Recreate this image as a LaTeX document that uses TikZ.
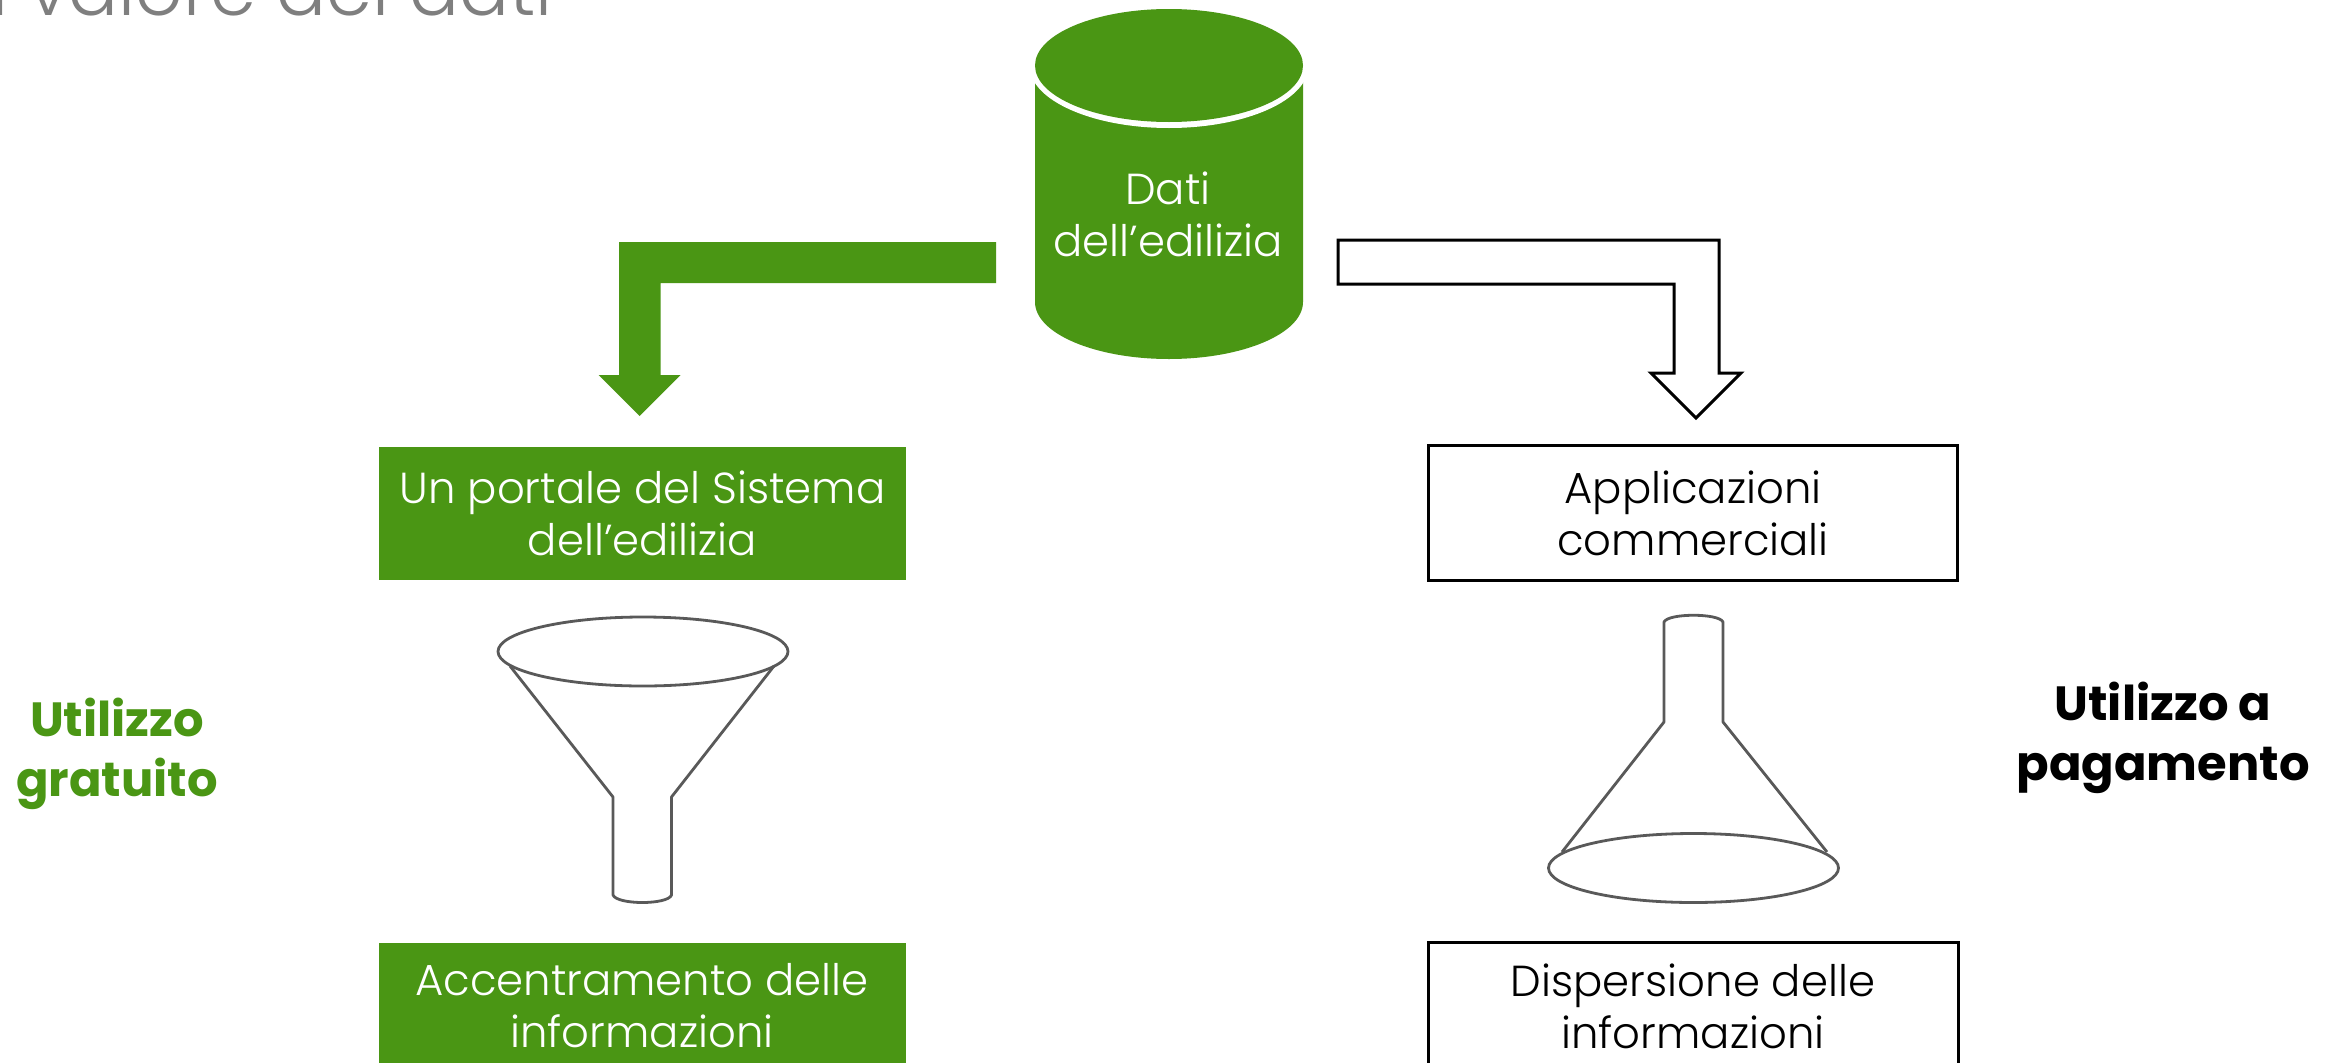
\documentclass[tikz,border=0pt]{standalone}
\usepackage{fontspec}
\setmainfont{Poppins}[UprightFont={* Light},BoldFont={* Bold}]
\definecolor{verde}{HTML}{4A9614}
\definecolor{grigio}{HTML}{595959}
\definecolor{titolo}{HTML}{7F7F7F}
\tikzset{
  lbl/.style={align=center,font=\fontsize{43.4}{52}\selectfont,inner sep=0pt},
  lblw/.style={lbl,text=white},
  lblk/.style={lbl,text=black},
  side/.style={align=center,font=\fontsize{48}{59.5}\selectfont\bfseries,inner sep=0pt},
  glass/.style={draw=grigio,line width=2.8pt,line join=round},
  hollow/.style={draw=black,line width=3pt,fill=white,line join=miter},
}
\begin{document}
\begin{tikzpicture}[x=1pt,y=-1pt]
\useasboundingbox (0,0) rectangle (2338,1063);
\fill[white] (0,0) rectangle (2338,1063);
\clip (0,0) rectangle (2338,1063);
% title
\node[anchor=base east,text=titolo,font=\fontsize{74}{90}\selectfont,inner sep=0pt] (title) at (553,15) {Il valore dei dati};
% cylinder
\fill[verde] (1035,65) -- (1035,302) arc[start angle=180,end angle=360,x radius=134pt,y radius=57pt] -- (1303,65) -- cycle;
\fill[white] (1169,65.5) circle[x radius=139.6pt,y radius=62.5pt];
\fill[verde] (1169,65.5) circle[x radius=134pt,y radius=56.5pt];
\node[lblw] (dati) at (1168,214.5) {Dati\\dell’edilizia};
% block arrows
\fill[verde] (996,242) -- (619,242) -- (619,375) -- (598.5,375) -- (639.5,416) -- (680.5,375) -- (660.5,375) -- (660.5,283) -- (996,283) -- cycle;
\path[hollow] (1338,240) -- (1719,240) -- (1719,373) -- (1741,373) -- (1696,418) -- (1651,373) -- (1674,373) -- (1674,284) -- (1338,284) -- cycle;
% boxes
\node[fill=verde,minimum width=527pt,minimum height=133pt,lblw,inner sep=0pt] (portale) at (642.5,513) {Un portale del Sistema\\dell’edilizia};
\node[draw=black,line width=3pt,minimum width=529pt,minimum height=135pt,lblk] (app) at (1693,513) {Applicazioni\\commerciali};
\fill[verde] (379,943) rectangle (906,1080);
\node[lblw] (accent) at (642,1006) {Accentramento delle\\informazioni};
\draw[black,line width=3pt] (1428,1080) -- (1428,942) -- (1958,942) -- (1958,1080);
\node[lblk] (disp) at (1693,1006) {Dispersione delle\\informazioni};
% funnel
\draw[glass] (643,651.5) circle[x radius=145pt,y radius=34.5pt];
\draw[glass] (510,666) -- (613,797) -- (613,895) .. controls (617,905) and (668,905) .. (671.5,895) -- (671.5,797) -- (774,666);
% flask
\draw[glass] (1693.5,868) circle[x radius=145pt,y radius=34.5pt];
\draw[glass] (1562,852) -- (1664,722) -- (1664,622) .. controls (1668,613) and (1719,613) .. (1723,622) -- (1723,722) -- (1827,852);
% side labels
\node[side,text=verde] (grat) at (117,754) {Utilizzo\\gratuito};
\node[side,text=black] (pag) at (2163,738) {Utilizzo a\\pagamento};
\end{tikzpicture}
\end{document}
